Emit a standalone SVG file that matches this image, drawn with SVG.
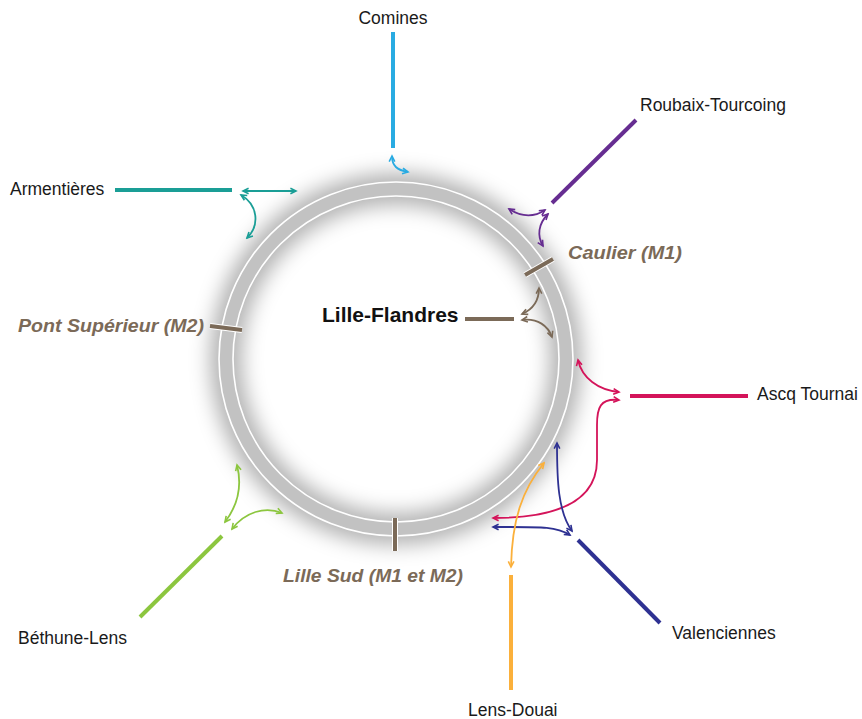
<svg xmlns="http://www.w3.org/2000/svg" width="862" height="719" viewBox="0 0 862 719">
<style>
.lbl{font-family:"Liberation Sans",Arial,sans-serif;font-size:17.5px;fill:#1a1a1a}
.stn{font-family:"Liberation Sans",Arial,sans-serif;font-size:19px;font-weight:bold;font-style:italic;fill:#7b6a58}
.main{font-family:"Liberation Sans",Arial,sans-serif;font-size:21px;font-weight:bold;fill:#111}
.ln{fill:none;stroke-width:4;stroke-linecap:butt}
.ar{fill:none;stroke-width:1.8}
</style>
<defs>
<filter id="blur" x="-30%" y="-30%" width="160%" height="160%"><feGaussianBlur stdDeviation="10"/></filter>
<marker id="mBlue" viewBox="0 0 10 10" refX="8" refY="5" markerWidth="8" markerHeight="8" markerUnits="userSpaceOnUse" orient="auto-start-reverse"><path d="M1,1.5 L8,5 L1,8.5" fill="none" stroke="#29abe2" stroke-width="2"/></marker>
<marker id="mPur" viewBox="0 0 10 10" refX="8" refY="5" markerWidth="8" markerHeight="8" markerUnits="userSpaceOnUse" orient="auto-start-reverse"><path d="M1,1.5 L8,5 L1,8.5" fill="none" stroke="#662d91" stroke-width="2"/></marker>
<marker id="mTeal" viewBox="0 0 10 10" refX="8" refY="5" markerWidth="8" markerHeight="8" markerUnits="userSpaceOnUse" orient="auto-start-reverse"><path d="M1,1.5 L8,5 L1,8.5" fill="none" stroke="#1a9e96" stroke-width="2"/></marker>
<marker id="mBrn" viewBox="0 0 10 10" refX="8" refY="5" markerWidth="8" markerHeight="8" markerUnits="userSpaceOnUse" orient="auto-start-reverse"><path d="M1,1.5 L8,5 L1,8.5" fill="none" stroke="#7b6a58" stroke-width="2"/></marker>
<marker id="mRed" viewBox="0 0 10 10" refX="8" refY="5" markerWidth="8" markerHeight="8" markerUnits="userSpaceOnUse" orient="auto-start-reverse"><path d="M1,1.5 L8,5 L1,8.5" fill="none" stroke="#d4145a" stroke-width="2"/></marker>
<marker id="mNavy" viewBox="0 0 10 10" refX="8" refY="5" markerWidth="8" markerHeight="8" markerUnits="userSpaceOnUse" orient="auto-start-reverse"><path d="M1,1.5 L8,5 L1,8.5" fill="none" stroke="#2e3192" stroke-width="2"/></marker>
<marker id="mOr" viewBox="0 0 10 10" refX="8" refY="5" markerWidth="8" markerHeight="8" markerUnits="userSpaceOnUse" orient="auto-start-reverse"><path d="M1,1.5 L8,5 L1,8.5" fill="none" stroke="#fbb03b" stroke-width="2"/></marker>
<marker id="mGr" viewBox="0 0 10 10" refX="8" refY="5" markerWidth="8" markerHeight="8" markerUnits="userSpaceOnUse" orient="auto-start-reverse"><path d="M1,1.5 L8,5 L1,8.5" fill="none" stroke="#8cc63f" stroke-width="2"/></marker>
</defs>
<rect width="862" height="719" fill="#fff"/>

<g id="ring">
<circle cx="396" cy="359" r="170" fill="none" stroke="#000" stroke-opacity="0.3" stroke-width="32" filter="url(#blur)"/>
<circle cx="396" cy="359" r="170" fill="none" stroke="#c2c2c2" stroke-width="14"/>
<circle cx="396" cy="359" r="177" fill="none" stroke="#fff" stroke-width="1.6"/>
<circle cx="396" cy="359" r="163" fill="none" stroke="#fff" stroke-width="1.6"/>
</g>

<g id="lines">
<line class="ln" x1="393" y1="32" x2="393" y2="148" stroke="#29abe2"/>
<line class="ln" x1="552" y1="203" x2="636" y2="120" stroke="#662d91"/>
<line class="ln" x1="115" y1="190" x2="232" y2="190" stroke="#1a9e96"/>
<line class="ln" x1="465" y1="319" x2="514" y2="319" stroke="#7b6a58" stroke-width="3.5"/>
<line class="ln" x1="630" y1="396" x2="748" y2="396" stroke="#d4145a" stroke-width="3.5"/>
<line class="ln" x1="578" y1="540" x2="660" y2="623" stroke="#2e3192"/>
<line class="ln" x1="511" y1="575" x2="511" y2="690" stroke="#fbb03b"/>
<line class="ln" x1="140" y1="617" x2="222" y2="536" stroke="#8cc63f"/>
</g>

<g id="connectors">
<path class="ar" d="M392,156 C392,166 397,170 408,172" stroke="#29abe2" marker-start="url(#mBlue)" marker-end="url(#mBlue)"/>
<path class="ar" d="M545,210 C533,218 520,216 509,209" stroke="#662d91" marker-start="url(#mPur)" marker-end="url(#mPur)"/>
<path class="ar" d="M548,214 C538,224 537,236 543,246" stroke="#662d91" marker-start="url(#mPur)" marker-end="url(#mPur)"/>
<path class="ar" d="M243,191 L296,191" stroke="#1a9e96" marker-start="url(#mTeal)" marker-end="url(#mTeal)"/>
<path class="ar" d="M241,195 C258,205 260,225 247,238" stroke="#1a9e96" marker-start="url(#mTeal)" marker-end="url(#mTeal)"/>
<path class="ar" d="M522,314 C536,308 539,298 539,288" stroke="#7b6a58" marker-start="url(#mBrn)" marker-end="url(#mBrn)"/>
<path class="ar" d="M522,320 C538,318 548,326 552,337" stroke="#7b6a58" marker-start="url(#mBrn)" marker-end="url(#mBrn)"/>
<path class="ar" d="M619,392 C598,390 582,378 578,360" stroke="#d4145a" marker-start="url(#mRed)" marker-end="url(#mRed)"/>
<path class="ar" d="M619,400 C600,398 597,408 597,425 L597,460 C597,500 560,518 493,518" stroke="#d4145a" marker-start="url(#mRed)" marker-end="url(#mRed)"/>
<path class="ar" d="M572,531 C558,512 557,480 557,443" stroke="#2e3192" marker-start="url(#mNavy)" marker-end="url(#mNavy)"/>
<path class="ar" d="M570,535 C555,526 540,527 493,527" stroke="#2e3192" marker-start="url(#mNavy)" marker-end="url(#mNavy)"/>
<path class="ar" d="M511,567 C512,520 522,490 544,463" stroke="#fbb03b" marker-start="url(#mOr)" marker-end="url(#mOr)"/>
<path class="ar" d="M225,522 C238,505 242,485 237,465" stroke="#8cc63f" marker-start="url(#mGr)" marker-end="url(#mGr)"/>
<path class="ar" d="M232,529 C245,512 265,506 282,513" stroke="#8cc63f" marker-start="url(#mGr)" marker-end="url(#mGr)"/>
</g>

<g id="ticks" stroke-linecap="butt">
<g id="tick-caulier"><line x1="525" y1="275" x2="553" y2="259" stroke="#fff" stroke-width="6"/><line x1="525" y1="275" x2="553" y2="259" stroke="#7b6a58" stroke-width="4"/></g>
<g id="tick-pont"><line x1="210" y1="326" x2="242" y2="330" stroke="#fff" stroke-width="6"/><line x1="210" y1="326" x2="242" y2="330" stroke="#7b6a58" stroke-width="4"/></g>
<g id="tick-sud"><line x1="395" y1="518" x2="395" y2="551" stroke="#fff" stroke-width="6"/><line x1="395" y1="518" x2="395" y2="551" stroke="#7b6a58" stroke-width="4"/></g>
</g>

<g id="labels">
<g id="n-comines"><text class="lbl" x="393" y="24" text-anchor="middle">Comines</text></g>
<g id="n-roubaix"><text class="lbl" x="640" y="111">Roubaix-Tourcoing</text></g>
<g id="n-armentieres"><text class="lbl" x="10" y="195">Armentières</text></g>
<g id="n-ascq"><text class="lbl" x="757" y="400">Ascq Tournai</text></g>
<g id="n-bethune"><text class="lbl" x="18" y="644">Béthune-Lens</text></g>
<g id="n-valenciennes"><text class="lbl" x="672" y="639">Valenciennes</text></g>
<g id="n-lensdouai"><text class="lbl" x="468" y="716">Lens-Douai</text></g>
<g id="n-lilleflandres"><text class="main" x="322" y="322">Lille-Flandres</text></g>
<g id="n-caulier"><text class="stn" x="568" y="259" textLength="114" lengthAdjust="spacingAndGlyphs">Caulier (M1)</text></g>
<g id="n-pont"><text class="stn" x="18" y="332" textLength="186" lengthAdjust="spacingAndGlyphs">Pont Supérieur (M2)</text></g>
<g id="n-sud"><text class="stn" x="283" y="582" textLength="180" lengthAdjust="spacingAndGlyphs">Lille Sud (M1 et M2)</text></g>
</g>
</svg>
